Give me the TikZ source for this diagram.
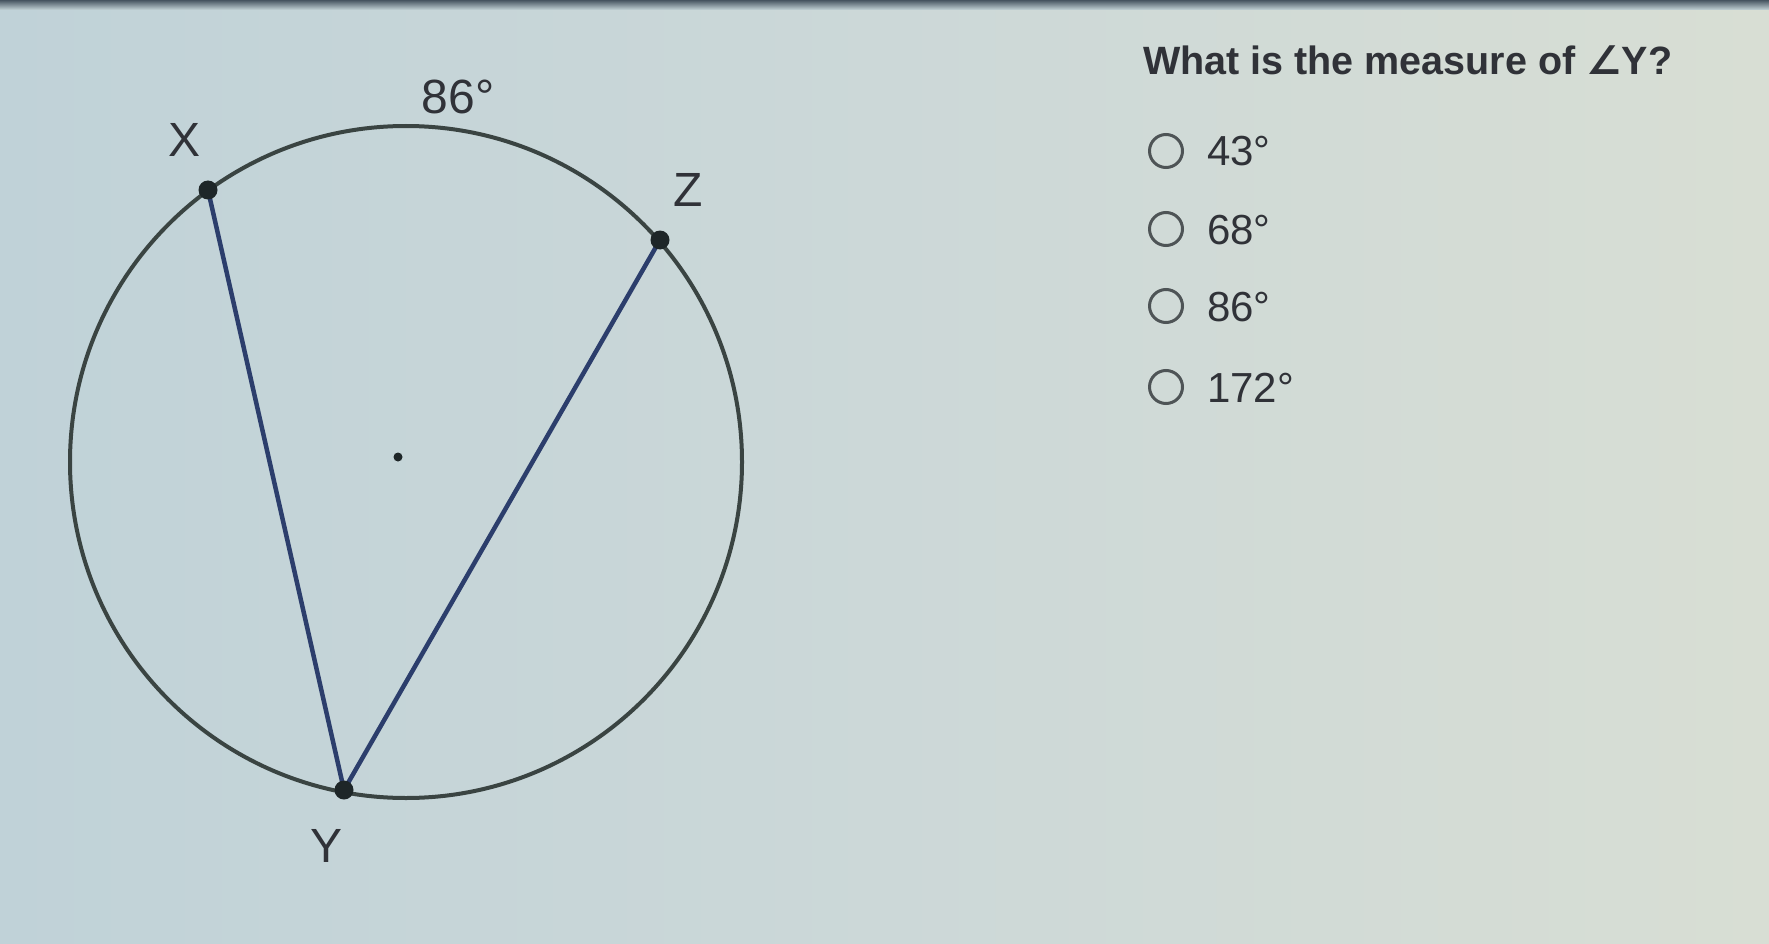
\documentclass[tikz,border=0pt]{standalone}
\usepackage{fontspec}
\setmainfont{Liberation Sans}
\newfontfamily\symfont{DejaVu Sans}
\definecolor{bgleft}{RGB}{192,210,216}
\definecolor{bgmid}{RGB}{204,216,216}
\definecolor{bgright}{RGB}{216,222,212}
\definecolor{topband}{RGB}{70,84,96}
\definecolor{ringc}{RGB}{58,68,66}
\definecolor{chordc}{RGB}{44,62,108}
\definecolor{dotc}{RGB}{30,38,40}
\definecolor{txtc}{RGB}{48,50,56}
\definecolor{radioc}{RGB}{78,84,86}
\pgfdeclarelayer{paper}
\pgfdeclarelayer{lines}
\pgfsetlayers{paper,lines,main}
\begin{document}
\begin{tikzpicture}[x=1pt,y=-1pt,
  ring/.style={draw=ringc, line width=4pt},
  chord/.style={draw=chordc, line width=4.5pt},
  vtx/.style={circle, fill=dotc, inner sep=0pt, minimum size=19pt},
  ctr/.style={circle, fill=dotc, inner sep=0pt, minimum size=9pt},
  lbl/.style={font=\fontsize{48}{48}\selectfont, text=txtc, inner sep=0pt},
  qtext/.style={font=\fontsize{39.5}{40}\selectfont\bfseries, text=txtc, inner sep=0pt, anchor=base west},
  opt/.style={font=\fontsize{42}{42}\selectfont, text=txtc, inner sep=0pt, anchor=base west},
  radio/.style={circle, draw=radioc, line width=3pt, minimum size=33pt, inner sep=0pt}]
\useasboundingbox (0,0) rectangle (1769,944);
\begin{pgfonlayer}{paper}
  \shade[left color=bgleft, right color=bgright, middle color=bgmid] (0,0) rectangle (1769,944);
  \shade[top color=topband, bottom color=bgleft!60!bgmid] (0,0) rectangle (1769,10);
\end{pgfonlayer}
% points
\node[vtx] (X) at (208,190) {};
\node[vtx] (Z) at (660,240) {};
\node[vtx] (Y) at (344,790) {};
\node[ctr] (O) at (398,457) {};
\coordinate (C) at (406,462);
\begin{pgfonlayer}{lines}
  \draw[ring] (C) circle[radius=336pt];
  \draw[chord] (X.center) -- (Y.center);
  \draw[chord] (Y.center) -- (Z.center);
\end{pgfonlayer}
% labels
\node[lbl] (lX) at (185,140) {X};
\node[lbl] (lZ) at (688,190) {Z};
\node[lbl] (lY) at (327,846) {Y};
\node[lbl] (l86) at (458,97) {86°};
% question
\node[qtext] (q) at (1143,75) {What is the measure of {\symfont\bfseries ∠}Y?};
% options
\node[radio] (r1) at (1166,151) {};
\node[opt] (o1) at (1207,166) {43°};
\node[radio] (r2) at (1166,229) {};
\node[opt] (o2) at (1207,244) {68°};
\node[radio] (r3) at (1166,306) {};
\node[opt] (o3) at (1207,321) {86°};
\node[radio] (r4) at (1166,387) {};
\node[opt] (o4) at (1207,402) {172°};
\end{tikzpicture}
\end{document}
